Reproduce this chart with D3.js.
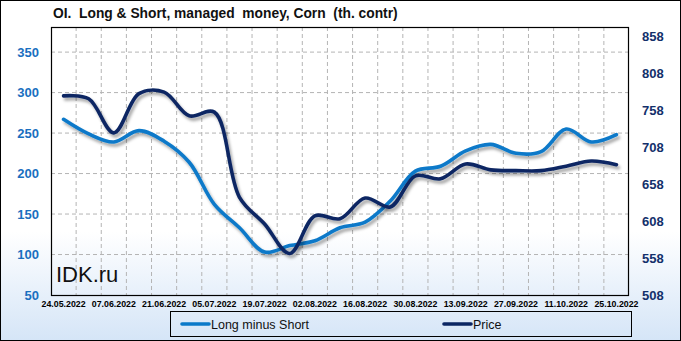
<!DOCTYPE html>
<html><head><meta charset="utf-8">
<script src="https://cdn.jsdelivr.net/npm/d3@7"></script>
<style>body{margin:0;padding:0;background:#fff}svg{display:block}</style>
</head><body>
<svg id="chart" width="681" height="341"></svg>
<script>
const dates = ["24.05.2022","31.05.2022","07.06.2022","14.06.2022","21.06.2022","28.06.2022","05.07.2022","12.07.2022","19.07.2022","26.07.2022","02.08.2022","09.08.2022","16.08.2022","23.08.2022","30.08.2022","06.09.2022","13.09.2022","20.09.2022","27.09.2022","04.10.2022","11.10.2022","18.10.2022","25.10.2022"];
const longMinusShort = [267,249,239,253,240,214,162,133,103,111,117,133,140,166,203,209,228,236,225,227,255,239,248];
const price = [777,773,727,780,782,750,755,640,604,564,615,611,639,627,669,665,685,677,676,676,682,689,684];
const leftTicks = [50,100,150,200,250,300,350];
const rightTicks = [508,558,608,658,708,758,808,858];
const title = "OI.  Long & Short, managed  money, Corn  (th. contr)";
const seriesNames = ["Long minus Short","Price"];

const W = 681, H = 341;
const plot = {l:51, r:629, t:27, b:295};
const svg = d3.select("#chart");
const defs = svg.append("defs");
const grad = defs.append("linearGradient").attr("id","bg").attr("x1",0).attr("y1",0).attr("x2",0).attr("y2",1);
grad.append("stop").attr("offset","0").attr("stop-color","#ffffff");
grad.append("stop").attr("offset","0.68").attr("stop-color","#ffffff");
grad.append("stop").attr("offset","1").attr("stop-color","#d5e5f7");
const f = defs.append("filter").attr("id","sh").attr("x","-10%").attr("y","-10%").attr("width","130%").attr("height","140%");
f.append("feDropShadow").attr("dx",2).attr("dy",3).attr("stdDeviation",1.6).attr("flood-color","#000").attr("flood-opacity",0.35);

svg.append("rect").attr("x",0.5).attr("y",0.5).attr("width",W-1).attr("height",H-1).attr("fill","url(#bg)").attr("stroke","#000");

const x = d3.scaleBand().domain(dates).range([plot.l, plot.r]).padding(0);
const yL = d3.scaleLinear().domain([50, 381]).range([plot.b, plot.t]);
const yR = d3.scaleLinear().domain([508, 870]).range([plot.b, plot.t]);
const cx = d => x(d) + x.bandwidth()/2;

// grid
const g = svg.append("g");
g.selectAll("line.h").data(leftTicks.filter(t => t > 50)).join("line")
  .attr("x1",plot.l).attr("x2",plot.r).attr("y1",d=>yL(d)).attr("y2",d=>yL(d))
  .attr("stroke","#b4b4b4").attr("stroke-width",1).attr("stroke-dasharray","4,3");
g.selectAll("line.v").data(dates.slice(1)).join("line")
  .attr("x1",d=>x(d)).attr("x2",d=>x(d)).attr("y1",plot.t).attr("y2",plot.b)
  .attr("stroke","#b4b4b4").attr("stroke-width",1).attr("stroke-dasharray","4,3");

// title
svg.append("text").attr("x",53).attr("y",18).attr("xml:space","preserve").style("white-space","pre")
  .attr("font-family","Liberation Sans, Arial, sans-serif").attr("font-weight","bold").attr("font-size",13.8)
  .attr("fill","#111").text(title);

// axes
const axL = svg.append("g").attr("transform",`translate(${plot.l},0)`)
  .call(d3.axisLeft(yL).tickValues(leftTicks).tickSize(0).tickPadding(12));
axL.select(".domain").remove();
axL.selectAll("text").attr("font-family","Liberation Sans, Arial, sans-serif").attr("font-weight","bold").attr("font-size",13).attr("fill","#1a6fc0");

const axR = svg.append("g").attr("transform",`translate(${plot.r},0)`)
  .call(d3.axisRight(yR).tickValues(rightTicks).tickSize(0).tickPadding(13));
axR.select(".domain").remove();
axR.selectAll("text").attr("font-family","Liberation Sans, Arial, sans-serif").attr("font-weight","bold").attr("font-size",13).attr("fill","#13306b");

const axB = svg.append("g").attr("transform",`translate(0,${plot.b})`)
  .call(d3.axisBottom(x).tickValues(dates.filter((d,i)=>i%2===0)).tickSize(0).tickPadding(6));
axB.select(".domain").remove();
axB.selectAll("text").attr("font-family","Liberation Sans, Arial, sans-serif").attr("font-weight","bold").attr("font-size",8.8).attr("fill","#000");

// frame
svg.append("rect").attr("x",plot.l+0.5).attr("y",plot.t+0.5).attr("width",plot.r-plot.l-1).attr("height",plot.b-plot.t)
  .attr("fill","none").attr("stroke","#000").attr("stroke-width",1.2);

// watermark
svg.append("text").attr("x",56).attr("y",282).attr("font-family","Liberation Sans, Arial, sans-serif").attr("font-size",22).attr("fill","#111").text("IDK.ru");

// lines
const curve = d3.curveCatmullRom.alpha(0.5);
const lineL = d3.line().x((d,i)=>cx(dates[i])).y(d=>yL(d)).curve(curve);
const lineR = d3.line().x((d,i)=>cx(dates[i])).y(d=>yR(d)).curve(curve);
svg.append("path").attr("d",lineL(longMinusShort)).attr("fill","none").attr("stroke","#0a79c9").attr("stroke-width",3.6)
  .attr("stroke-linecap","round").attr("stroke-linejoin","round").attr("filter","url(#sh)");
svg.append("path").attr("d",lineR(price)).attr("fill","none").attr("stroke","#0b2663").attr("stroke-width",3.6)
  .attr("stroke-linecap","round").attr("stroke-linejoin","round").attr("filter","url(#sh)");

// legend
svg.append("rect").attr("x",170.5).attr("y",311.5).attr("width",461).attr("height",25).attr("fill","none").attr("stroke","#000");
const leg = [{name:seriesNames[0],color:"#0a79c9",x:182},{name:seriesNames[1],color:"#0b2663",x:444}];
const lg = svg.selectAll("g.leg").data(leg).join("g");
lg.append("line").attr("x1",d=>d.x).attr("x2",d=>d.x+27).attr("y1",324).attr("y2",324)
  .attr("stroke",d=>d.color).attr("stroke-width",3.6).attr("stroke-linecap","round");
lg.append("text").attr("x",d=>d.x+29).attr("y",328.5).attr("font-family","Liberation Sans, Arial, sans-serif").attr("font-size",12.5).attr("fill","#111").text(d=>d.name);
</script>
</body></html>
